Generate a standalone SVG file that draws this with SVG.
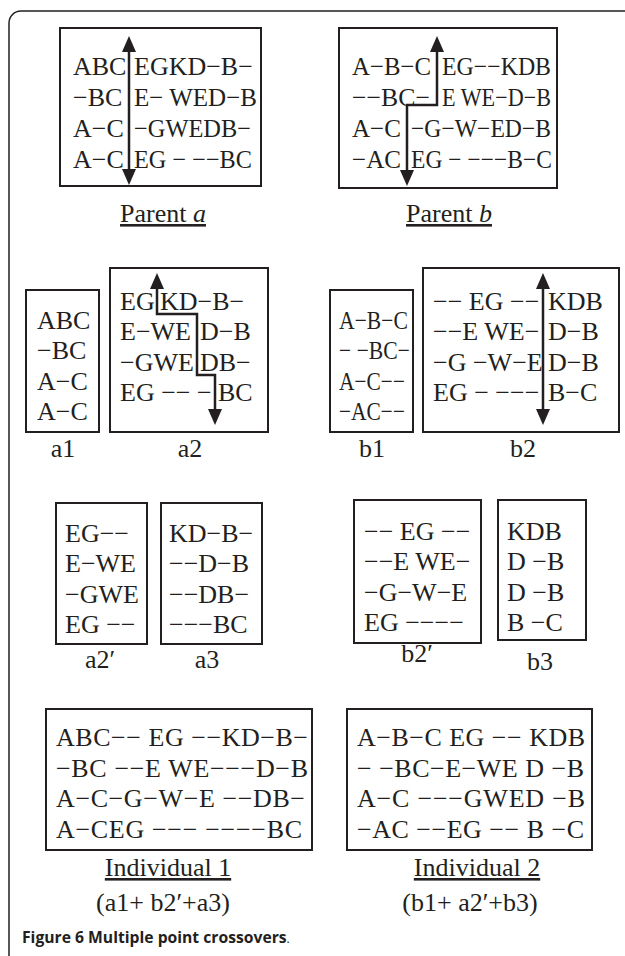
<svg xmlns="http://www.w3.org/2000/svg" width="625" height="956" viewBox="0 0 625 956">
<defs>
<marker id="ah" viewBox="0 0 16 14" refX="12" refY="7" markerWidth="16" markerHeight="14" markerUnits="userSpaceOnUse" orient="auto-start-reverse"><path d="M0,0 L16,7 L0,14 z" fill="#231f20"/></marker>
<style>
.box{fill:none;stroke:#231f20;stroke-width:2}
.t{font-family:"Liberation Serif","Times New Roman",serif;font-size:26px;fill:#231f20}
.lbl{font-family:"Liberation Serif","Times New Roman",serif;font-size:26px;fill:#231f20;text-anchor:middle}
.u{text-decoration:underline}
.arr{fill:none;stroke:#231f20;stroke-width:2.5;marker-start:url(#ah);marker-end:url(#ah)}
.frame{fill:none;stroke:#231f20;stroke-width:1.5}
.cap{font-family:"Open Sans","Noto Sans",sans-serif;font-size:15.7px;fill:#231f20;font-weight:bold}
</style>
</defs>
<rect width="625" height="956" fill="#fff"/>
<path class="frame" d="M9,956 V23 A12,12 0 0 1 21,11 H625"/>

<g id="parent-a">
<rect class="box" x="60" y="28" width="201" height="158"/>
<text class="t" x="73" y="75">ABC</text><text class="t" x="134" y="75">EGKD−B−</text>
<text class="t" x="73" y="106">−BC</text><text class="t" x="134" y="106" textLength="123" lengthAdjust="spacingAndGlyphs">E− WED−B</text>
<text class="t" x="73" y="137">A−C</text><text class="t" x="134" y="137" textLength="117" lengthAdjust="spacingAndGlyphs">−GWEDB−</text>
<text class="t" x="73" y="168">A−C</text><text class="t" x="134" y="168" textLength="118" lengthAdjust="spacingAndGlyphs">EG − −−BC</text>
<text class="lbl u" x="163" y="222">Parent <tspan font-style="italic">a</tspan></text>
</g>

<g id="parent-b">
<rect class="box" x="339" y="28" width="218" height="160"/>
<text class="t" x="352" y="75" textLength="79" lengthAdjust="spacingAndGlyphs">A−B−C</text><text class="t" x="442" y="75" textLength="109" lengthAdjust="spacingAndGlyphs">EG−−KDB</text>
<text class="t" x="352" y="106" textLength="78" lengthAdjust="spacingAndGlyphs">−−BC−</text><text class="t" x="442" y="106" textLength="109" lengthAdjust="spacingAndGlyphs">E WE−D−B</text>
<text class="t" x="352" y="137" textLength="49" lengthAdjust="spacingAndGlyphs">A−C</text><text class="t" x="411" y="137" textLength="140" lengthAdjust="spacingAndGlyphs">−G−W−ED−B</text>
<text class="t" x="352" y="168" textLength="49" lengthAdjust="spacingAndGlyphs">−AC</text><text class="t" x="411" y="168" textLength="141" lengthAdjust="spacingAndGlyphs">EG − −−−B−C</text>
<text class="lbl u" x="449" y="222">Parent <tspan font-style="italic">b</tspan></text>
</g>

<g id="a1">
<rect class="box" x="26" y="290" width="73" height="142"/>
<text class="t" x="37" y="329">ABC</text>
<text class="t" x="37" y="359">−BC</text>
<text class="t" x="37" y="390">A−C</text>
<text class="t" x="37" y="420">A−C</text>
<text class="lbl" x="63" y="457">a1</text>
</g>

<g id="a2">
<rect class="box" x="110" y="268" width="158" height="164"/>
<text class="t" x="120" y="310">EG</text><text class="t" x="160" y="310">KD−B−</text>
<text class="t" x="120" y="340">E−WE</text><text class="t" x="200" y="340">D−B</text>
<text class="t" x="120" y="371">−GWE</text><text class="t" x="200" y="371">DB−</text>
<text class="t" x="120" y="401">EG −− −</text><text class="t" x="218" y="401">BC</text>
<text class="lbl" x="190" y="457">a2</text>
</g>

<g id="b1">
<rect class="box" x="330" y="290" width="83" height="142"/>
<text class="t" x="339" y="329" textLength="69" lengthAdjust="spacingAndGlyphs">A−B−C</text>
<text class="t" x="339" y="359" textLength="71" lengthAdjust="spacingAndGlyphs">− −BC−</text>
<text class="t" x="339" y="390" textLength="66" lengthAdjust="spacingAndGlyphs">A−C−−</text>
<text class="t" x="339" y="420" textLength="66" lengthAdjust="spacingAndGlyphs">−AC−−</text>
<text class="lbl" x="372" y="457">b1</text>
</g>

<g id="b2">
<rect class="box" x="423" y="268" width="196" height="164"/>
<text class="t" x="433" y="310">−− EG −−</text><text class="t" x="548" y="310">KDB</text>
<text class="t" x="433" y="340">−−E WE−</text><text class="t" x="548" y="340">D−B</text>
<text class="t" x="433" y="371">−G −W−E</text><text class="t" x="548" y="371">D−B</text>
<text class="t" x="433" y="401">EG − −−−</text><text class="t" x="548" y="401">B−C</text>
<text class="lbl" x="523" y="457">b2</text>
</g>

<g id="a2p">
<rect class="box" x="56" y="503" width="91" height="141"/>
<text class="t" x="65" y="542">EG−−</text>
<text class="t" x="65" y="572">E−WE</text>
<text class="t" x="65" y="603">−GWE</text>
<text class="t" x="65" y="633">EG −−</text>
<text class="lbl" x="100" y="668">a2′</text>
</g>

<g id="a3">
<rect class="box" x="161" y="503" width="101" height="141"/>
<text class="t" x="169" y="542">KD−B−</text>
<text class="t" x="169" y="572">−−D−B</text>
<text class="t" x="169" y="603">−−DB−</text>
<text class="t" x="169" y="633">−−−BC</text>
<text class="lbl" x="207" y="668">a3</text>
</g>

<g id="b2p">
<rect class="box" x="354" y="500" width="127" height="143"/>
<text class="t" x="364" y="540">−− EG −−</text>
<text class="t" x="364" y="570">−−E WE−</text>
<text class="t" x="364" y="601">−G−W−E</text>
<text class="t" x="364" y="631">EG −−−−</text>
<text class="lbl" x="417" y="662">b2′</text>
</g>

<g id="b3">
<rect class="box" x="498" y="500" width="88" height="140"/>
<text class="t" x="507" y="540">KDB</text>
<text class="t" x="507" y="570">D −B</text>
<text class="t" x="507" y="601">D −B</text>
<text class="t" x="507" y="631">B −C</text>
<text class="lbl" x="540" y="670">b3</text>
</g>

<g id="individual-1">
<rect class="box" x="46" y="709" width="266" height="141"/>
<text class="t" font-size="27" x="56" y="746" textLength="252" lengthAdjust="spacing">ABC−− EG −−KD−B−</text>
<text class="t" font-size="27" x="56" y="777" textLength="252" lengthAdjust="spacing">−BC −−E WE−−−D−B</text>
<text class="t" font-size="27" x="56" y="807" textLength="249" lengthAdjust="spacing">A−C−G−W−E −−DB−</text>
<text class="t" font-size="27" x="56" y="838" textLength="246" lengthAdjust="spacing">A−CEG −−− −−−−BC</text>
<text class="lbl u" x="168" y="876">Individual 1</text>
<text class="lbl" x="163" y="911">(a1+ b2′+a3)</text>
</g>

<g id="individual-2">
<rect class="box" x="347" y="709" width="245" height="141"/>
<text class="t" font-size="27" x="357" y="746" textLength="228" lengthAdjust="spacing">A−B−C EG −− KDB</text>
<text class="t" font-size="27" x="357" y="777" textLength="227" lengthAdjust="spacing">− −BC−E−WE D −B</text>
<text class="t" font-size="27" x="357" y="807" textLength="228" lengthAdjust="spacing">A−C −−−GWED −B</text>
<text class="t" font-size="27" x="357" y="838" textLength="227" lengthAdjust="spacing">−AC −−EG −− B −C</text>
<text class="lbl u" x="477" y="876">Individual 2</text>
<text class="lbl" x="470" y="911">(b1+ a2′+b3)</text>
</g>

<g id="connectors">
<path class="arr" d="M129,40 V181"/>
<path class="arr" d="M437,40 V105 H407 V182"/>
<path class="arr" d="M157,277 V314 H197 V375 H215 V421"/>
<path class="arr" d="M543,277 V421"/>
</g>

<text class="cap" x="22" y="943">Figure 6 Multiple point crossovers<tspan font-weight="normal" font-size="12">.</tspan></text>
</svg>
